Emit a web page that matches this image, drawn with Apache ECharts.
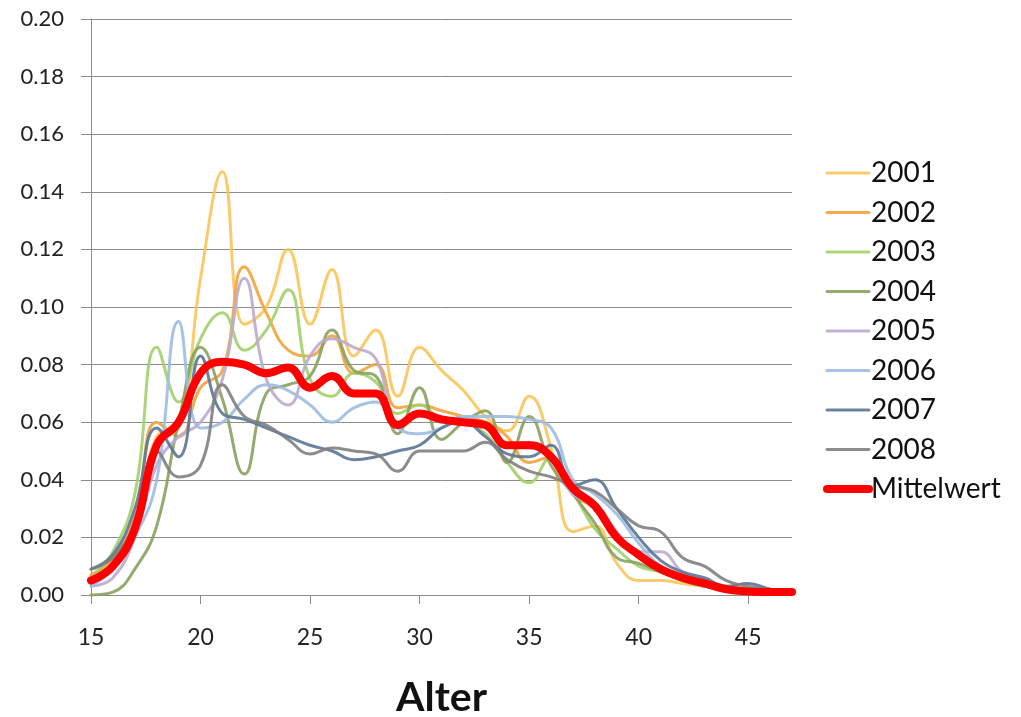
<!DOCTYPE html>
<html><head><meta charset="utf-8">
<script src="https://cdn.jsdelivr.net/npm/echarts@6/dist/echarts.min.js"></script>
<style>html,body{margin:0;padding:0;background:#fff}#c{width:1021px;height:717px}</style>
</head><body><div id="c"></div>
<script>
const ages = [15,16,17,18,19,20,21,22,23,24,25,26,27,28,29,30,31,32,33,34,35,36,37,38,39,40,41,42,43,44,45,46,47];
const xTicks = [15,20,25,30,35,40,45];
const seriesNames = ['2001','2002','2003','2004','2005','2006','2007','2008','Mittelwert'];
const y2001 = [0.007,0.012,0.025,0.055,0.058,0.110,0.147,0.094,0.100,0.120,0.094,0.113,0.083,0.092,0.069,0.086,0.078,0.071,0.062,0.057,0.069,0.051,0.022,0.024,0.011,0.005,0.005,0.004,0.003,0.002,0.001,0.001,0.001];
const y2002 = [0.007,0.013,0.027,0.060,0.055,0.072,0.078,0.114,0.098,0.085,0.083,0.090,0.077,0.080,0.065,0.066,0.064,0.062,0.060,0.055,0.046,0.048,0.035,0.030,0.020,0.013,0.009,0.006,0.004,0.003,0.002,0.001,0.001];
const y2003 = [0.006,0.015,0.035,0.086,0.067,0.089,0.098,0.085,0.092,0.106,0.075,0.069,0.077,0.074,0.063,0.066,0.061,0.060,0.056,0.046,0.039,0.048,0.036,0.023,0.016,0.010,0.008,0.005,0.003,0.002,0.001,0.001,0.001];
const y2004 = [0.000,0.001,0.009,0.024,0.060,0.086,0.068,0.042,0.070,0.073,0.076,0.092,0.078,0.076,0.056,0.072,0.054,0.060,0.064,0.046,0.062,0.045,0.035,0.025,0.013,0.011,0.008,0.005,0.003,0.002,0.001,0.001,0.001];
const y2005 = [0.003,0.006,0.020,0.045,0.055,0.060,0.075,0.110,0.075,0.066,0.083,0.089,0.086,0.082,0.060,0.063,0.060,0.062,0.058,0.052,0.053,0.048,0.035,0.032,0.022,0.015,0.015,0.008,0.005,0.003,0.001,0.001,0.002];
const y2006 = [0.003,0.009,0.020,0.040,0.095,0.058,0.060,0.068,0.073,0.071,0.066,0.060,0.065,0.067,0.058,0.056,0.058,0.062,0.062,0.062,0.061,0.058,0.040,0.035,0.028,0.018,0.010,0.007,0.005,0.003,0.002,0.001,0.001];
const y2007 = [0.009,0.014,0.030,0.058,0.048,0.083,0.063,0.061,0.058,0.055,0.052,0.050,0.047,0.048,0.050,0.052,0.058,0.060,0.055,0.049,0.048,0.052,0.038,0.040,0.030,0.020,0.012,0.008,0.006,0.003,0.004,0.002,0.001];
const y2008 = [0.009,0.013,0.025,0.050,0.041,0.045,0.073,0.062,0.059,0.054,0.049,0.051,0.050,0.049,0.043,0.050,0.050,0.050,0.053,0.047,0.043,0.041,0.038,0.036,0.030,0.024,0.022,0.013,0.010,0.005,0.003,0.002,0.001];
const yMittel = [0.005,0.010,0.023,0.052,0.060,0.077,0.081,0.080,0.077,0.079,0.072,0.076,0.070,0.070,0.059,0.063,0.061,0.060,0.059,0.052,0.052,0.048,0.037,0.031,0.020,0.014,0.009,0.006,0.004,0.002,0.0012,0.001,0.001];
const allValues = [y2001,y2002,y2003,y2004,y2005,y2006,y2007,y2008,yMittel];
const colors = ['#F9C55A','#F2A43E','#A3CF6C','#8AA15E','#BBABD0','#9DBCE1','#5B7596','#808080','#FF0000'];

const FONT = 'Lato, "Open Sans", sans-serif';
const chart = echarts.init(document.getElementById('c'), null, {renderer:'canvas'});
const series = seriesNames.map((n,i) => {
  const isMean = n === 'Mittelwert';
  return {
    name: n, type: 'line', smooth: 0.45, showSymbol: false, symbol: 'none',
    data: ages.map((a,j) => [a, allValues[i][j]]),
    lineStyle: {color: colors[i], width: isMean ? 8 : 3, opacity: isMean ? 1 : 0.9, cap: 'round', join: 'round'},
    itemStyle: {color: colors[i]},
    z: isMean ? 10 : 2,
    emphasis: {disabled: true}
  };
});
chart.setOption({
  animation: false,
  backgroundColor: '#fff',
  grid: {left: 91, top: 19, right: 229, bottom: 122, containLabel: false, outerBoundsMode: 'none'},
  legend: {
    orient: 'vertical', left: 818, top: 154,
    itemWidth: 42, itemHeight: 14, itemGap: 11.5,
    itemStyle: {opacity: 0},
    data: seriesNames.map((n,i) => ({name: n, lineStyle: {width: n === 'Mittelwert' ? 8 : 3, color: colors[i], cap: 'round'}})),
    textStyle: {fontFamily: FONT, fontSize: 28, color: '#111', padding: [0,0,0,-3]}
  },
  xAxis: {
    type: 'value', min: 15, max: 47, interval: 5,
    name: 'Alter', nameLocation: 'middle', nameGap: 82,
    nameTextStyle: {fontFamily: FONT, fontSize: 41, fontWeight: 'bold', color: '#111'},
    axisLine: {show: true, lineStyle: {color: '#8c8c8c', width: 1}},
    axisTick: {show: true, length: 9, customValues: xTicks, lineStyle: {color: '#8c8c8c'}},
    axisLabel: {customValues: xTicks, margin: 31, fontFamily: FONT, fontSize: 23, color: '#222'},
    splitLine: {show: false}
  },
  yAxis: {
    type: 'value', min: 0, max: 0.2, interval: 0.02,
    axisLine: {show: true, lineStyle: {color: '#8c8c8c', width: 1}},
    axisTick: {show: true, length: 10, lineStyle: {color: '#8c8c8c'}},
    axisLabel: {margin: 27, fontFamily: FONT, fontSize: 22, color: '#222', formatter: v => v.toFixed(2)},
    splitLine: {show: true, lineStyle: {color: '#8c8c8c', width: 1}}
  },
  series: series
});
</script></body></html>
